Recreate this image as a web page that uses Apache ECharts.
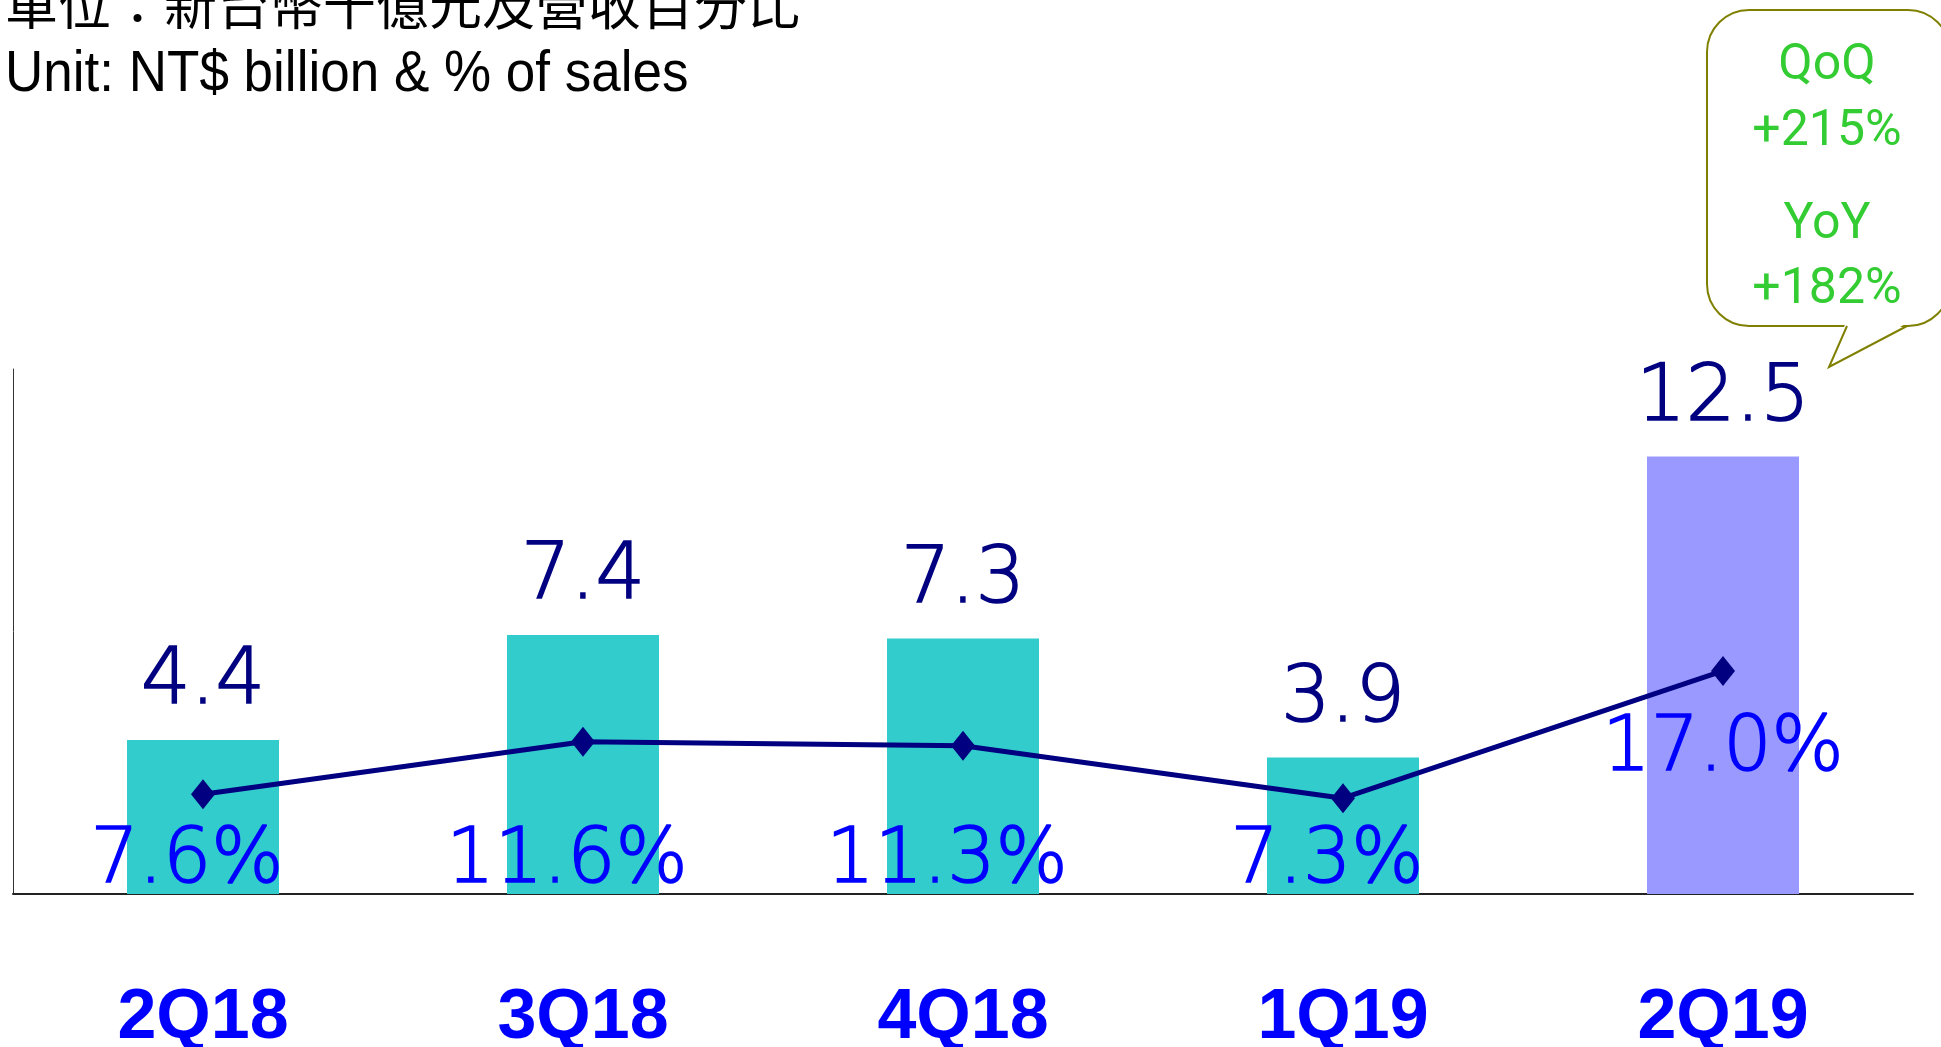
<!DOCTYPE html>
<html>
<head>
<meta charset="utf-8">
<title>營業利益</title>
<script src="https://cdn.jsdelivr.net/npm/echarts@6/dist/echarts.min.js"></script>
<style>
  html, body { margin: 0; padding: 0; background: #fff; }
  #chart { width: 1941px; height: 1047px; }
</style>
</head>
<body>
<div id="chart"></div>
<script>
// 資料
var quarters = ['2Q18', '3Q18', '4Q18', '1Q19', '2Q19']
var sales = [4.4, 7.4, 7.3, 3.9, 12.5] // 新台幣十億元
var pct = [7.6, 11.6, 11.3, 7.3, 17.0] // 營收百分比
var qoq = '+215%'
var yoy = '+182%'

// 顏色
var barColor = '#33CCCC'
var lastBarColor = '#9999FF'
var navy = '#000080'
var blue = '#0000FF'
var green = '#33CC33'
var olive = '#808000'

var numFont = 'DejaVu Sans'

var lastIdx = quarters.length - 1

var barData = sales.map(function(v, i) {
    return {
        value: v,
        itemStyle: { color: i === lastIdx ? lastBarColor : barColor }
    }
})

// 百分比標籤(前四季放在柱底,最後一季放在折線點下)
var pctLabelData = sales.map(function(v, i) {
    return { value: v, label: { show: i !== lastIdx } }
})
var lineData = pct.map(function(v, i) {
    return { value: v, label: { show: i === lastIdx } }
})

function calloutText(txt, y) {
    return {
        type: 'text',
        x: 1827,
        y: y,
        style: { text: txt, fill: green, font: '50px Roboto', align: 'center', verticalAlign: 'middle' }
    }
}

var option = {
    animation: false,
    grid: { left: 13, right: 28, top: 369, bottom: 153, outerBoundsMode: 'none' },
    xAxis: {
        type: 'category',
        data: quarters,
        axisLine: { show: true, lineStyle: { color: '#222', width: 2 } },
        axisTick: { show: false },
        axisLabel: {
            margin: 90,
            color: blue,
            fontSize: 70,
            fontWeight: 'bold',
            fontFamily: 'Liberation Sans'
        }
    },
    yAxis: [{
        type: 'value',
        min: 0,
        max: 15,
        axisLine: { show: true, lineStyle: { color: '#333', width: 1 } },
        axisTick: { show: false },
        axisLabel: { show: false },
        splitLine: { show: false }
    }, {
        type: 'value',
        min: 0,
        max: 40,
        show: false,
        splitLine: { show: false }
    }],
    series: [{
        name: '營業利益',
        type: 'bar',
        barWidth: 152,
        data: barData,
        label: {
            show: true,
            position: 'top',
            distance: 18,
            color: navy,
            textBorderColor: navy,
            textBorderWidth: 1.6,
            fontSize: 78,
            fontFamily: numFont,
            fontWeight: 200
        },
        z: 2
    }, {
        name: 'pctLabel',
        type: 'bar',
        barWidth: 152,
        barGap: '-100%',
        silent: true,
        data: pctLabelData,
        itemStyle: { color: 'transparent' },
        label: {
            position: 'insideBottom',
            distance: 0,
            offset: [-16, 6],
            color: blue,
            textBorderColor: blue,
            textBorderWidth: 1.6,
            fontSize: 76,
            fontFamily: numFont,
            fontWeight: 200,
            formatter: function(p) {
                return pct[p.dataIndex].toFixed(1) + '%'
            }
        },
        z: 4
    }, {
        name: '營益率',
        type: 'line',
        yAxisIndex: 1,
        data: lineData,
        symbol: 'diamond',
        symbolSize: [24, 30],
        lineStyle: { color: navy, width: 5 },
        itemStyle: { color: navy },
        label: {
            position: 'bottom',
            distance: 26,
            color: blue,
            textBorderColor: blue,
            textBorderWidth: 1.6,
            fontSize: 76,
            fontFamily: numFont,
            fontWeight: 200,
            formatter: function(p) {
                return p.value.toFixed(1) + '%'
            }
        },
        z: 3
    }],
    graphic: [{
        type: 'text',
        x: 5,
        y: -22,
        style: {
            text: '單位：新台幣千億元及營收百分比',
            fill: '#000',
            font: '53px "Noto Sans CJK TC"'
        }
    }, {
        type: 'text',
        x: 5,
        y: 47,
        scaleX: 0.93,
        style: {
            text: 'Unit: NT$ billion & % of sales',
            fill: '#000',
            font: '57px "Liberation Sans"'
        }
    }, {
        // 對話框
        type: 'rect',
        shape: { x: 1707, y: 10, width: 243, height: 316, r: 42 },
        style: { fill: '#fff', stroke: olive, lineWidth: 2 }
    }, {
        type: 'polygon',
        shape: { points: [[1846, 322], [1829, 366], [1909, 322]] },
        style: { fill: '#fff' }
    }, {
        type: 'polyline',
        shape: { points: [[1847, 326], [1829, 367], [1907, 326]] },
        style: { fill: null, stroke: olive, lineWidth: 2 }
    },
    calloutText('QoQ', 66),
    calloutText(qoq, 132),
    calloutText('YoY', 225),
    calloutText(yoy, 290)
    ]
}

var chart = echarts.init(document.getElementById('chart'))
chart.setOption(option)
window.addEventListener('resize', function() {
    chart.resize()
})
</script>
</body>
</html>
